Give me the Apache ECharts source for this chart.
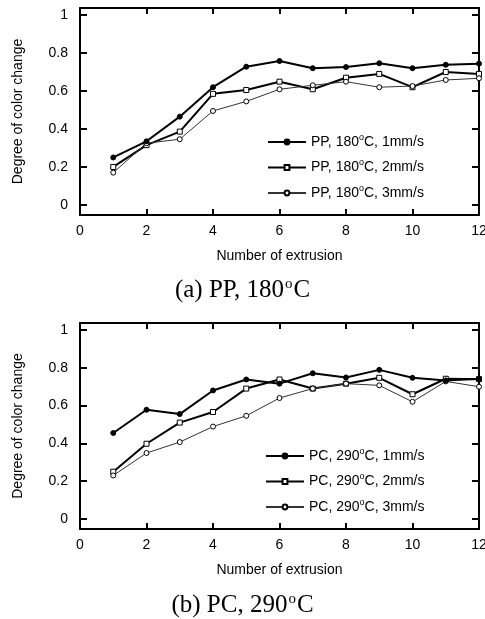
<!DOCTYPE html>
<html><head><meta charset="utf-8">
<script src="https://cdn.jsdelivr.net/npm/echarts@6/dist/echarts.min.js"></script>
<style>html,body{margin:0;padding:0;background:#fff}#c{width:485px;height:619px}</style>
</head><body><div id="c"></div>
<script>
var extrusion = [1,2,3,4,5,6,7,8,9,10,11,12];
var pp1 = [0.25,0.335,0.465,0.62,0.728,0.758,0.72,0.726,0.746,0.72,0.738,0.744];
var pp2 = [0.20,0.315,0.386,0.585,0.605,0.649,0.609,0.670,0.690,0.620,0.700,0.690];
var pp3 = [0.17,0.325,0.346,0.495,0.545,0.609,0.630,0.649,0.620,0.626,0.658,0.667];
var pc1 = [0.455,0.578,0.555,0.680,0.738,0.716,0.771,0.749,0.789,0.747,0.733,0.742];
var pc2 = [0.25,0.398,0.510,0.566,0.690,0.738,0.690,0.716,0.747,0.660,0.742,0.740];
var pc3 = [0.23,0.349,0.407,0.489,0.546,0.640,0.690,0.716,0.707,0.620,0.728,0.700];
var yTicks = [0,0.2,0.4,0.6,0.8,1];
var names = {
  pp1:'PP, 180{sup|o}C, 1mm/s', pp2:'PP, 180{sup|o}C, 2mm/s', pp3:'PP, 180{sup|o}C, 3mm/s',
  pc1:'PC, 290{sup|o}C, 1mm/s', pc2:'PC, 290{sup|o}C, 2mm/s', pc3:'PC, 290{sup|o}C, 3mm/s'
};
var FONT = 'Liberation Sans';
function pairs(arr){ return extrusion.map(function(x,i){return [x,arr[i]];}); }
var supRich = {sup:{fontSize:9,fontFamily:FONT,color:'#000',lineHeight:14,padding:[0,0,9,0]}};

function xAxes(gi){
  return [
    {gridIndex:gi,type:'value',min:0,max:12,interval:2,position:'bottom',
     name:'Number of extrusion',nameLocation:'middle',nameGap:34,
     nameTextStyle:{fontFamily:FONT,fontSize:14,color:'#000'},
     axisLine:{onZero:false,lineStyle:{color:'#000',width:2}},
     axisTick:{inside:true,length:6,lineStyle:{width:2,color:'#000'}},
     axisLabel:{fontFamily:FONT,fontSize:14,color:'#000',margin:9},
     splitLine:{show:false}},
    {gridIndex:gi,type:'value',min:0,max:12,interval:2,position:'top',
     axisLine:{onZero:false,lineStyle:{color:'#000',width:2}},
     axisTick:{inside:true,length:6,lineStyle:{width:2,color:'#000'}},
     axisLabel:{show:false},splitLine:{show:false}}
  ];
}
function yAxes(gi){
  return [
    {gridIndex:gi,type:'value',min:-0.053,max:1.037,position:'left',
     name:'Degree of color change',nameLocation:'middle',nameGap:55,nameRotate:90,
     nameTextStyle:{fontFamily:FONT,fontSize:14,color:'#000'},
     axisLine:{show:true,onZero:false,lineStyle:{color:'#000',width:2}},
     axisTick:{show:true,inside:true,length:7,lineStyle:{width:2,color:'#000'},customValues:yTicks},
     axisLabel:{fontFamily:FONT,fontSize:14,color:'#000',margin:12,customValues:yTicks,
       formatter:function(v){return String(Math.round(v*10)/10);}},
     splitLine:{show:false}},
    {gridIndex:gi,type:'value',min:-0.053,max:1.037,position:'right',
     axisLine:{show:true,onZero:false,lineStyle:{color:'#000',width:2}},
     axisTick:{show:true,inside:true,length:7,lineStyle:{width:2,color:'#000'},customValues:yTicks},
     axisLabel:{show:false},splitLine:{show:false}}
  ];
}
function ser(name,data,gi,sym,w,col,filled){
  return {name:name,type:'line',xAxisIndex:gi*2,yAxisIndex:gi*2,data:pairs(data),
    symbol:sym,symbolSize:5,showSymbol:true,
    lineStyle:{color:col,width:w},
    itemStyle:{color:filled?'#000':'#fff',borderColor:'#000',borderWidth:1},
    emphasis:{disabled:true},animation:false,z:filled?4:3};
}
var capRich = {sup:{fontFamily:'Liberation Serif',fontSize:15,color:'#000',padding:[0,1,11,1]}};
var option = {
  animation:false,
  textStyle:{fontFamily:FONT},
  grid:[{left:80,right:6,top:8,height:207,outerBoundsMode:'none'},
        {left:80,right:6,top:323,height:206,outerBoundsMode:'none'}],
  xAxis: xAxes(0).concat(xAxes(1)),
  yAxis: yAxes(0).concat(yAxes(1)),
  title:[
    {text:'(a) PP, 180{sup|o}C',left:'center',top:272,
     textStyle:{fontFamily:'Liberation Serif',fontSize:25,fontWeight:'normal',color:'#000',rich:capRich}},
    {text:'(b) PC, 290{sup|o}C',left:'center',top:587,
     textStyle:{fontFamily:'Liberation Serif',fontSize:25,fontWeight:'normal',color:'#000',rich:capRich}}
  ],
  legend:[
    {data:[names.pp1,names.pp2,names.pp3],orient:'vertical',left:267,top:133,padding:0,
     itemWidth:38,itemHeight:6,itemGap:7.5,
     textStyle:{fontFamily:FONT,fontSize:14,color:'#000',rich:supRich}},
    {data:[names.pc1,names.pc2,names.pc3],orient:'vertical',left:265,top:447,padding:0,
     itemWidth:38,itemHeight:6,itemGap:7.5,
     textStyle:{fontFamily:FONT,fontSize:14,color:'#000',rich:supRich}}
  ],
  series:[
    ser(names.pp1,pp1,0,'circle',2,'#000',true),
    ser(names.pp2,pp2,0,'rect',2,'#000',false),
    ser(names.pp3,pp3,0,'circle',1,'#333',false),
    ser(names.pc1,pc1,1,'circle',2,'#000',true),
    ser(names.pc2,pc2,1,'rect',2,'#000',false),
    ser(names.pc3,pc3,1,'circle',1,'#333',false)
  ]
};
var chart = echarts.init(document.getElementById('c'),null,{renderer:'canvas'});
chart.setOption(option);
</script></body></html>
